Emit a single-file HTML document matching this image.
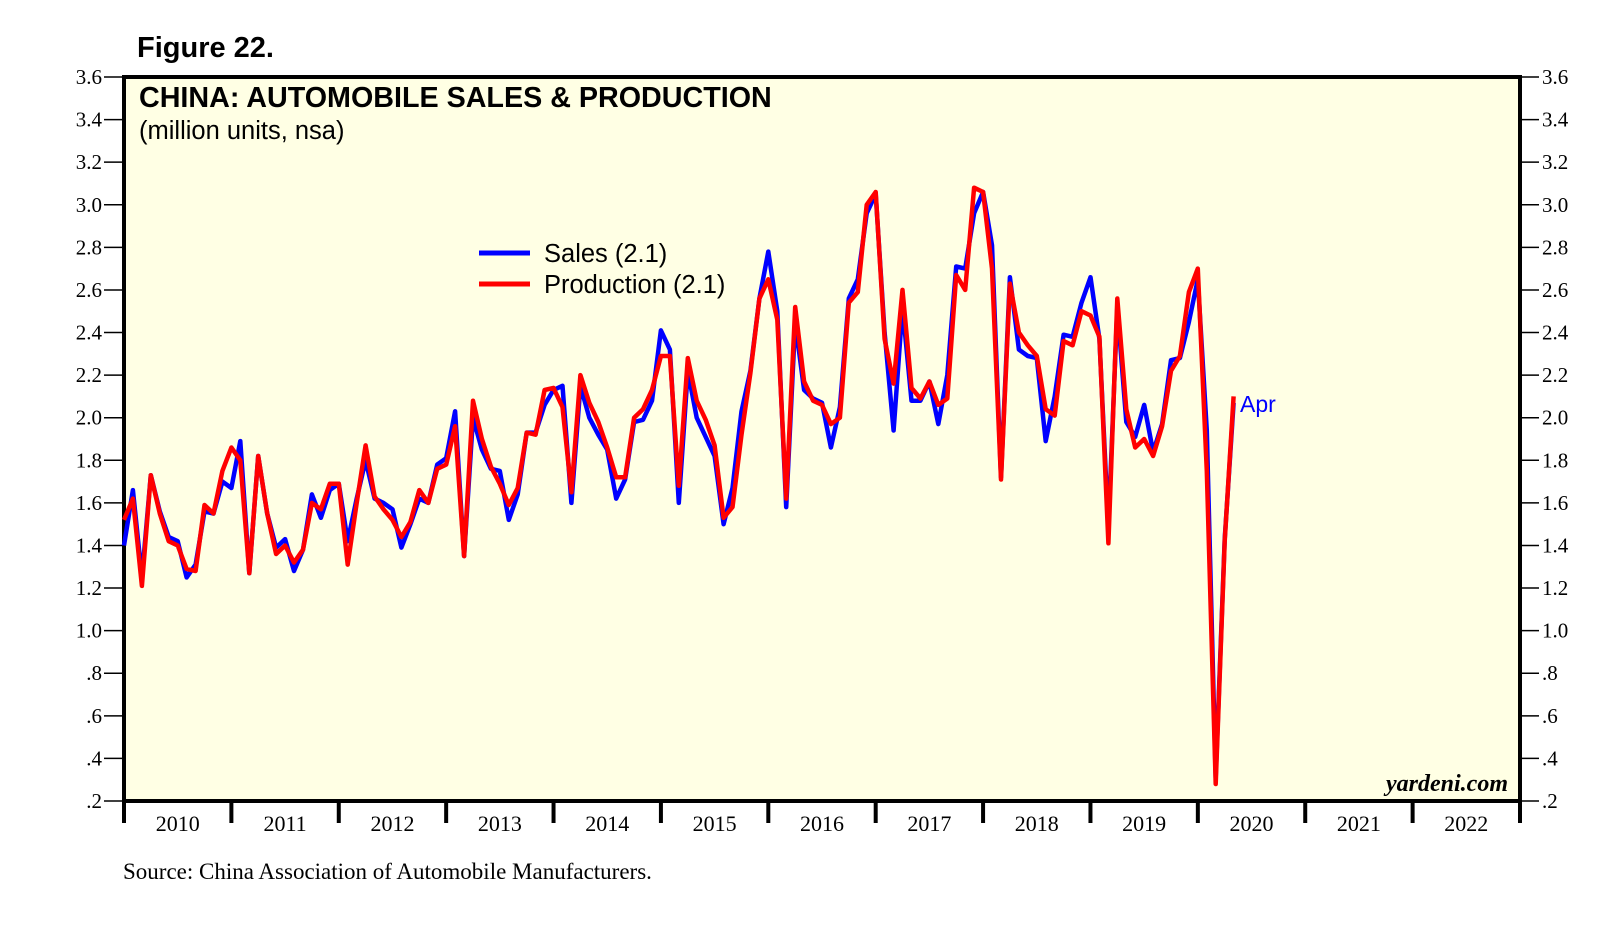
<!DOCTYPE html>
<html><head><meta charset="utf-8"><style>
body{margin:0;background:#fff;}
svg{display:block;}
</style></head><body>
<svg id="chart" width="1616" height="925" xmlns="http://www.w3.org/2000/svg">
<text x="137" y="57" font-family="Liberation Sans, sans-serif" font-weight="bold" font-size="29">Figure 22.</text>
<rect x="124" y="77" width="1396" height="724" fill="#ffffe4" stroke="#000" stroke-width="4"/>
<text x="139" y="107" font-family="Liberation Sans, sans-serif" font-weight="bold" font-size="28.7">CHINA: AUTOMOBILE SALES &amp; PRODUCTION</text>
<text x="139" y="139" font-family="Liberation Sans, sans-serif" font-size="25.5">(million units, nsa)</text>
<g id="axes"></g>
<g id="series"></g>
<g>
<line x1="479" y1="253" x2="530" y2="253" stroke="#0000ff" stroke-width="5"/>
<text x="544" y="262" font-family="Liberation Sans, sans-serif" font-size="25.5">Sales (2.1)</text>
<line x1="479" y1="284" x2="530" y2="284" stroke="#ff0000" stroke-width="5"/>
<text x="544" y="293" font-family="Liberation Sans, sans-serif" font-size="25.5">Production (2.1)</text>
</g>
<text x="1240" y="412" font-family="Liberation Sans, sans-serif" font-size="23" fill="#0000ff">Apr</text>
<text x="1508" y="791" text-anchor="end" font-family="Liberation Serif, serif" font-style="italic" font-weight="bold" font-size="24">yardeni.com</text>
<text x="123" y="879" font-family="Liberation Serif, serif" font-size="23">Source: China Association of Automobile Manufacturers.</text>
</svg>
<script>
const yTicks=[0.2,0.4,0.6,0.8,1.0,1.2,1.4,1.6,1.8,2.0,2.2,2.4,2.6,2.8,3.0,3.2,3.4,3.6];
const yTickLabels=[".2",".4",".6",".8","1.0","1.2","1.4","1.6","1.8","2.0","2.2","2.4","2.6","2.8","3.0","3.2","3.4","3.6"];
const years=["2010","2011","2012","2013","2014","2015","2016","2017","2018","2019","2020","2021","2022"];
const sales=[1.40,1.66,1.25,1.73,1.56,1.44,1.42,1.25,1.31,1.56,1.55,1.70,1.67,1.89,1.27,1.82,1.55,1.39,1.43,1.28,1.38,1.64,1.53,1.66,1.69,1.42,1.62,1.80,1.62,1.60,1.57,1.39,1.50,1.62,1.60,1.78,1.81,2.03,1.35,2.00,1.85,1.76,1.75,1.52,1.64,1.93,1.93,2.06,2.13,2.15,1.60,2.15,2.00,1.92,1.85,1.62,1.71,1.98,1.99,2.08,2.41,2.32,1.60,2.22,2.00,1.91,1.82,1.50,1.67,2.03,2.22,2.56,2.78,2.50,1.58,2.45,2.13,2.09,2.07,1.86,2.05,2.56,2.65,2.96,3.05,2.40,1.94,2.52,2.08,2.08,2.17,1.97,2.20,2.71,2.70,2.96,3.06,2.81,1.72,2.66,2.32,2.29,2.28,1.89,2.10,2.39,2.38,2.54,2.66,2.37,1.48,2.52,1.98,1.91,2.06,1.84,1.97,2.27,2.28,2.45,2.65,1.94,0.31,1.43,2.07];
const production=[1.52,1.62,1.21,1.73,1.55,1.42,1.40,1.29,1.28,1.59,1.55,1.75,1.86,1.80,1.27,1.82,1.55,1.36,1.40,1.32,1.38,1.60,1.57,1.69,1.69,1.31,1.60,1.87,1.63,1.57,1.52,1.44,1.51,1.66,1.60,1.76,1.78,1.96,1.35,2.08,1.90,1.77,1.69,1.59,1.67,1.93,1.92,2.13,2.14,2.05,1.65,2.20,2.07,1.98,1.86,1.72,1.72,2.00,2.04,2.13,2.29,2.29,1.68,2.28,2.08,1.99,1.87,1.53,1.58,1.92,2.21,2.56,2.65,2.46,1.62,2.52,2.17,2.08,2.06,1.97,2.00,2.54,2.59,3.00,3.06,2.37,2.16,2.60,2.14,2.09,2.17,2.06,2.09,2.67,2.60,3.08,3.06,2.70,1.71,2.63,2.40,2.34,2.29,2.04,2.01,2.36,2.34,2.50,2.48,2.38,1.41,2.56,2.04,1.86,1.90,1.82,1.96,2.22,2.29,2.59,2.70,1.75,0.28,1.42,2.10];
const NS="http://www.w3.org/2000/svg";
const L=124,R=1520,T=77,B=801,yMin=0.2,yMax=3.6;
const yearW=(R-L)/years.length;
function yScale(v){return B-(v-yMin)/(yMax-yMin)*(B-T);}
function xScale(i){return L+i*yearW/12;}
function mk(tag,attrs,parent){const e=document.createElementNS(NS,tag);for(const k in attrs)e.setAttribute(k,attrs[k]);parent.appendChild(e);return e;}
const axes=document.getElementById('axes');
yTicks.forEach((v,k)=>{
  const y=yScale(v);
  const t1=mk('line',{x1:104,y1:y,x2:124,y2:y,stroke:'#000','stroke-width':1.5},axes);
  
  
  const t2=mk('line',{x1:R,y1:y,x2:R+19,y2:y,stroke:'#000','stroke-width':1.5},axes);
  
  
  const a=mk('text',{x:102,y:y+7,'text-anchor':'end','font-family':'Liberation Serif, serif','font-size':21},axes);
  a.textContent=yTickLabels[k];
  
  
  const b=mk('text',{x:R+22,y:y+7,'font-family':'Liberation Serif, serif','font-size':21},axes);
  b.textContent=yTickLabels[k];
  
  
});
for(let k=0;k<=years.length;k++){
  const x=L+k*yearW;
  const t=mk('line',{x1:x,y1:B,x2:x,y2:B+22,stroke:'#000','stroke-width':4},axes);
  
  
  if(k<years.length){
    const lb=mk('text',{x:x+yearW/2,y:831,'text-anchor':'middle','font-family':'Liberation Serif, serif','font-size':22},axes);
    lb.textContent=years[k];
    
    
  }
}
const g=document.getElementById('series');
function pts(arr){return arr.map((v,i)=>xScale(i).toFixed(1)+','+yScale(v).toFixed(1)).join(' ');}
const ps=mk('polyline',{points:pts(sales),fill:'none',stroke:'#0000ff','stroke-width':4.5,'stroke-linejoin':'round'},g);


const pp=mk('polyline',{points:pts(production),fill:'none',stroke:'#ff0000','stroke-width':4.5,'stroke-linejoin':'round'},g);


</script>
</body></html>
